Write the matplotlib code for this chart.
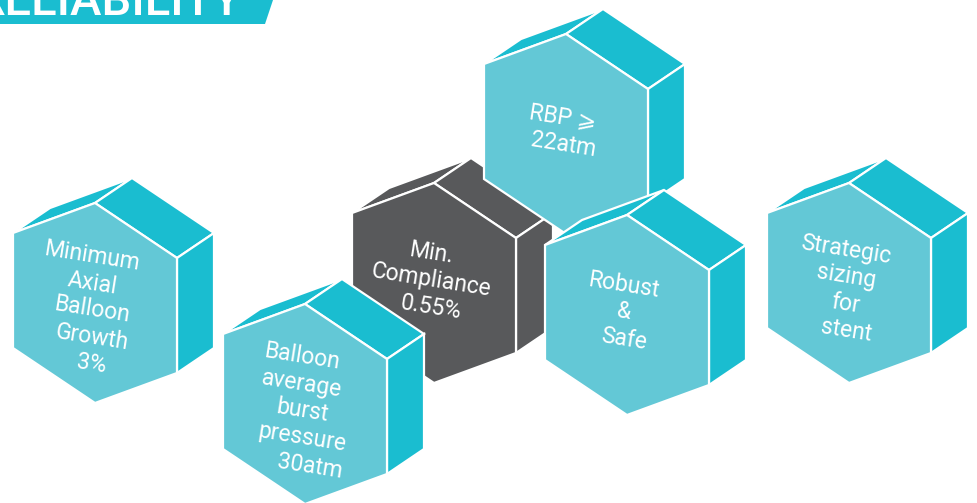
import matplotlib.pyplot as plt
from matplotlib.patches import Polygon
import numpy as np

plt.rcParams['font.family'] = ['Roboto', 'DejaVu Sans']

# prisms: label, front-face centre (px, y down), style
labels = [
    "Min.\nCompliance\n0.55%",
    "RBP \u2a7e\n22atm",
    "Minimum\nAxial\nBalloon\nGrowth\n3%",
    "Strategic\nsizing\nfor\nstent",
    "Robust\n&\nSafe",
    "Balloon\naverage\nburst\npressure\n   30atm",
]
cx = [434, 566, 95, 849, 627, 305]
cy = [283, 134, 303, 283, 315, 404]
dark = [True, False, False, False, False, False]

title = "RELIABILITY"

LIGHT = '#63c8d6'
TEAL = '#1abdd0'
GRAY = '#58595b'

# hexagon corners relative to centre: top, upper-right, lower-right, bottom, lower-left, upper-left
hx = np.array([0, 82, 82, 0, -82, -82])
hy = np.array([-100, -45, 70, 100, 45, -70])
depth = np.array([37, -25])

fig = plt.figure(figsize=(9.78, 5.03), dpi=100)
ax = fig.add_axes([0, 0, 1, 1])
ax.set_xlim(0, 978)
ax.set_ylim(503, 0)
ax.axis('off')

# title banner (only the lower part of the heading is in frame)
ax.add_patch(Polygon([(0, 0), (273, 0), (265, 24), (0, 24)], closed=True,
                     facecolor=TEAL, edgecolor='none'))
ax.text(242, 15, title, color='white', fontsize=34, fontweight='medium',
        ha='right', va='baseline', clip_on=True)


def prism(x, y, front, side):
    p = np.column_stack([hx + x, hy + y])
    T, UR, LR, B, LL, UL = p
    d = depth
    faces = [
        ([UL, UL + d, T + d, T], side),
        ([T, T + d, UR + d, UR], side),
        ([UR, UR + d, LR + d, LR], side),
        (list(p), front),
    ]
    for pts, c in faces:
        ax.add_patch(Polygon(pts, closed=True, facecolor=c, edgecolor='white',
                             lw=1.6, joinstyle='miter'))


for lab, x, y, dk in zip(labels, cx, cy, dark):
    if dk:
        prism(x, y, GRAY, GRAY)
    else:
        prism(x, y, LIGHT, TEAL)
    lines = lab.split("\n")
    n = len(lines)
    tx = x - 3
    ty = y + (10 if n >= 4 else 0) - 3
    for i, ln in enumerate(lines):
        ax.text(tx, ty + (i - (n - 1) / 2) * 27, ln, color='white', fontsize=16.5,
                ha='center', va='center', rotation=-9, rotation_mode='anchor')

fig.savefig('out.png', dpi=100)
